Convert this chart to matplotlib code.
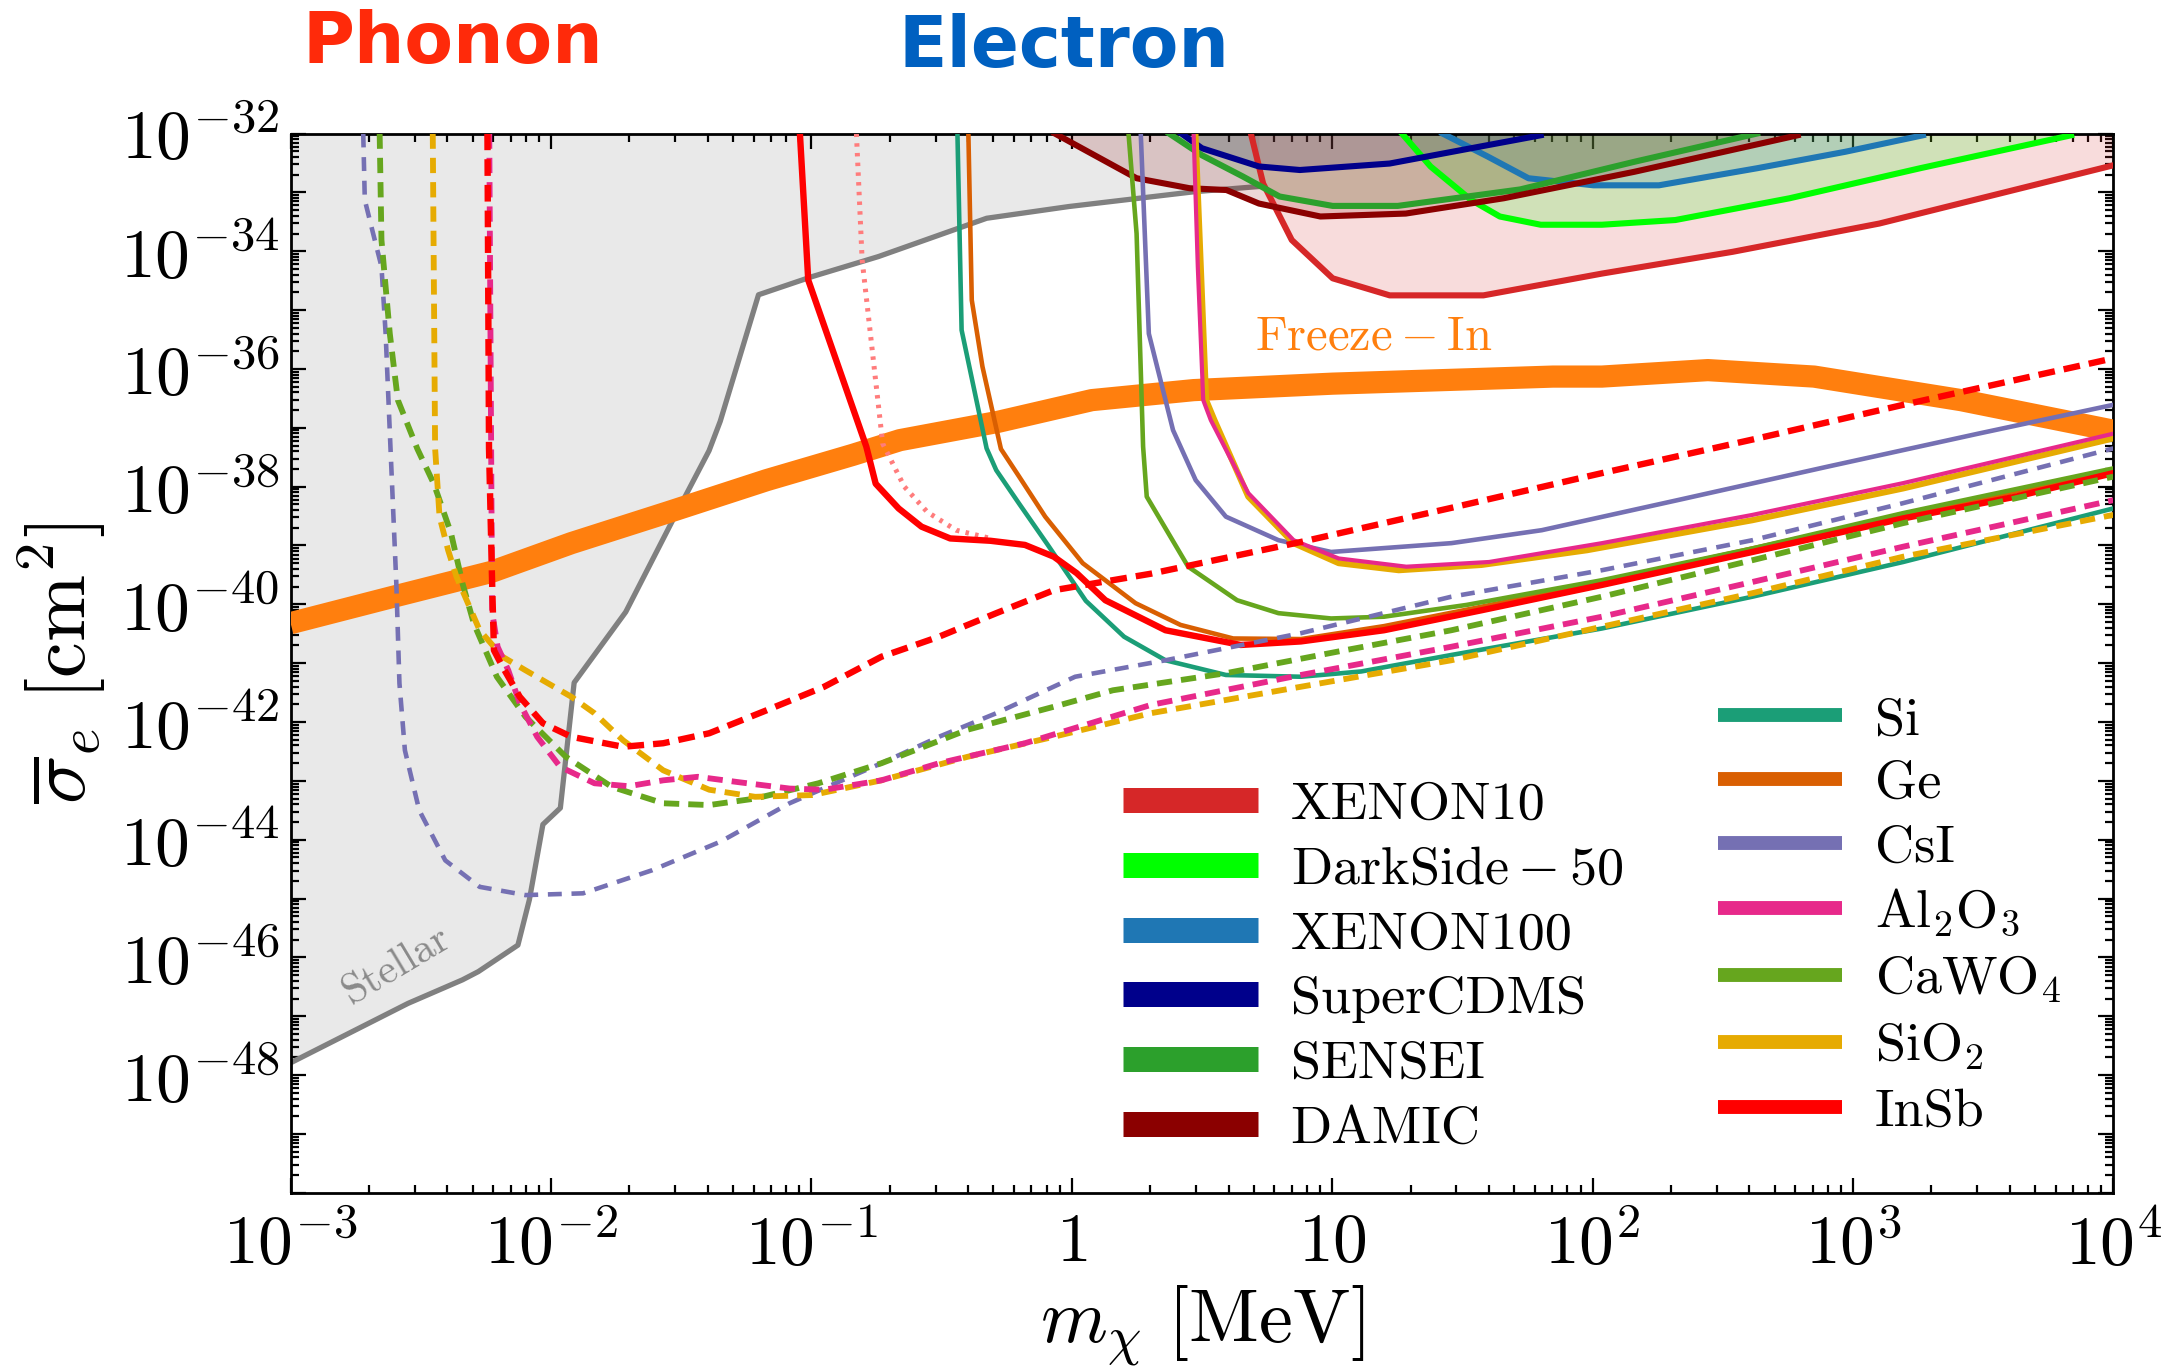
import numpy as np
import matplotlib
matplotlib.use('Agg')
import matplotlib.pyplot as plt
from matplotlib.lines import Line2D
from matplotlib.ticker import FixedLocator, LogLocator, FuncFormatter, NullFormatter

plt.rcParams.update({
    'font.family': 'serif',
    'font.serif': ['cmr10'],
    'mathtext.fontset': 'cm',
    'axes.unicode_minus': False,
    'axes.formatter.use_mathtext': True,
    'lines.scale_dashes': False,
})

# ---------------- data (log10 mass [MeV], log10 sigma [cm^2]) ----------------
stellar_lm = [-3.0, -2.549, -2.340, -2.279, -2.127, -2.083, -2.031, -1.964, -1.911, -1.713,
              -1.537, -1.393, -1.350, -1.203, -0.996, -0.742, -0.327, -0.010, 0.469, 0.719]
stellar_ls = [-47.79, -46.78, -46.38, -46.24, -45.79, -45.02, -43.74, -43.46, -41.33, -40.13,
              -38.61, -37.39, -36.89, -34.74, -34.43, -34.09, -33.44, -33.24, -32.99, -32.90]

freeze_lm = [-3.0, -2.605, -2.230, -1.922, -1.547, -1.172, -0.841, -0.660, -0.284, 0.077,
             0.468, 1.002, 1.848, 2.036, 2.443, 2.851, 3.415, 4.0]
freeze_ls = [-40.32, -39.87, -39.45, -38.96, -38.43, -37.89, -37.46, -37.21, -36.90, -36.53,
             -36.36, -36.25, -36.13, -36.13, -36.02, -36.13, -36.53, -37.05]

# experimental limits
xenon10_lm = [0.688, 0.735, 0.845, 1.002, 1.221, 1.581, 2.036, 2.538, 3.101, 4.0]
xenon10_ls = [-32.0, -32.85, -33.81, -34.46, -34.75, -34.75, -34.38, -34.01, -33.53, -32.54]
darkside_lm = [1.268, 1.378, 1.534, 1.644, 1.801, 2.036, 2.318, 2.757, 3.258, 3.838]
darkside_ls = [-32.0, -32.56, -33.13, -33.41, -33.55, -33.55, -33.47, -33.10, -32.59, -32.03]
xenon100_lm = [1.424, 1.597, 1.754, 2.004, 2.255, 2.632, 2.971, 3.269]
xenon100_ls = [-32.0, -32.39, -32.76, -32.88, -32.88, -32.59, -32.31, -32.03]
supercdms_lm = [0.421, 0.500, 0.719, 0.876, 1.221, 1.534, 1.801]
supercdms_ls = [-32.0, -32.25, -32.56, -32.62, -32.51, -32.25, -32.03]
sensei_lm = [0.374, 0.500, 0.657, 0.798, 1.002, 1.252, 1.722, 2.161, 2.632]
sensei_ls = [-32.0, -32.37, -32.73, -33.07, -33.23, -33.23, -32.95, -32.48, -32.0]
damic_lm = [-0.065, 0.249, 0.453, 0.594, 0.719, 0.955, 1.283, 1.659, 2.161, 2.788]
damic_ls = [-32.0, -32.76, -32.93, -32.96, -33.19, -33.41, -33.36, -33.10, -32.65, -32.03]

# electron scattering (solid)
si_lm = [-0.439, -0.423, -0.327, -0.290, -0.202, -0.092, 0.054, 0.201, 0.360, 0.592, 0.880,
         1.112, 1.458, 2.036, 2.614, 3.193, 4.0]
si_ls = [-32.0, -35.34, -37.35, -37.72, -38.29, -38.99, -39.94, -40.55, -40.95, -41.20, -41.23,
         -41.14, -40.86, -40.41, -39.87, -39.28, -38.37]
ge_lm = [-0.397, -0.384, -0.343, -0.272, -0.202, -0.102, 0.042, 0.245, 0.418, 0.620, 0.880,
         1.199, 1.574, 2.036, 2.614, 3.193, 4.0]
ge_ls = [-32.0, -34.83, -35.96, -37.36, -37.83, -38.51, -39.30, -39.98, -40.35, -40.58, -40.59,
         -40.37, -40.04, -39.62, -39.05, -38.49, -37.73]
csi_lm = [0.265, 0.296, 0.389, 0.476, 0.592, 0.794, 0.996, 1.458, 1.805, 2.326, 2.903, 3.481, 4.0]
csi_ls = [-32.0, -35.40, -37.04, -37.89, -38.51, -38.91, -39.11, -38.96, -38.74, -38.23, -37.66,
          -37.10, -36.61]
al2o3_lm = [0.468, 0.484, 0.505, 0.534, 0.678, 0.852, 1.025, 1.285, 1.603, 2.036, 2.614, 3.193, 4.0]
al2o3_ls = [-32.0, -34.26, -36.53, -36.87, -38.11, -38.91, -39.22, -39.36, -39.28, -38.96, -38.48,
            -37.94, -37.10]
cawo4_lm = [0.218, 0.249, 0.274, 0.288, 0.447, 0.635, 0.794, 0.996, 1.199, 1.516, 2.036, 2.614,
            3.193, 4.0]
cawo4_ls = [-32.0, -33.70, -37.32, -38.17, -39.36, -39.93, -40.15, -40.24, -40.21, -40.01, -39.59,
            -39.05, -38.45, -37.69]
sio2_lm = [0.475, 0.516, 0.548, 0.678, 0.852, 1.025, 1.256, 1.574, 1.979, 2.614, 3.193, 4.0]
sio2_ls = [-32.0, -36.53, -36.87, -38.17, -38.96, -39.30, -39.42, -39.33, -39.08, -38.57, -38.03,
           -37.18]
insb_lm = [-1.044, -1.012, -0.789, -0.753, -0.665, -0.577, -0.467, -0.312, -0.180, -0.069, 0.019,
           0.129, 0.360, 0.649, 0.880, 1.199, 1.574, 2.036, 2.614, 3.193, 3.626, 4.0]
insb_ls = [-32.0, -34.49, -37.32, -37.95, -38.37, -38.68, -38.88, -38.92, -38.99, -39.19, -39.47,
           -39.93, -40.44, -40.69, -40.63, -40.44, -40.10, -39.67, -39.11, -38.54, -38.17, -37.77]
insb_alt_lm = [-0.827, -0.805, -0.726, -0.643, -0.555, -0.444, -0.312]
insb_alt_ls = [-32.0, -34.15, -37.27, -38.00, -38.43, -38.74, -38.88]

# phonon (dashed)
csi_ph_lm = [-2.721, -2.715, -2.683, -2.651, -2.635, -2.616, -2.594, -2.582, -2.561, -2.506, -2.406,
             -2.274, -2.098, -1.877, -1.613, -1.348, -1.084, -0.731, -0.510, -0.290, 0.013, 0.360,
             0.880, 1.458, 2.036, 2.614, 3.193, 4.0]
csi_ph_ls = [-32.0, -33.13, -33.70, -34.26, -35.40, -37.38, -39.64, -41.34, -42.48, -43.50, -44.35,
             -44.80, -44.94, -44.91, -44.52, -44.03, -43.38, -42.70, -42.25, -41.85, -41.23, -40.95,
             -40.49, -39.87, -39.42, -38.91, -38.28, -37.35]
cawo4_ph_lm = [-2.658, -2.651, -2.619, -2.588, -2.513, -2.450, -2.384, -2.340, -2.296, -2.208,
               -2.098, -1.943, -1.767, -1.569, -1.392, -1.216, -0.973, -0.731, -0.400, -0.069,
               0.158, 0.592, 1.025, 1.458, 2.036, 2.614, 3.193, 4.0]
cawo4_ph_ls = [-32.0, -33.81, -35.40, -36.53, -37.36, -37.95, -38.79, -39.64, -40.33, -41.23,
               -41.91, -42.59, -43.10, -43.38, -43.41, -43.30, -43.04, -42.70, -42.13, -41.74,
               -41.46, -41.17, -40.80, -40.44, -39.87, -39.25, -38.62, -37.83]
sio2_ph_lm = [-2.454, -2.445, -2.428, -2.395, -2.363, -2.318, -2.274, -2.186, -2.098, -1.922,
              -1.833, -1.723, -1.569, -1.392, -1.216, -0.996, -0.731, -0.400, -0.069, 0.303,
              0.880, 1.458, 2.036, 2.614, 3.193, 4.0]
sio2_ph_ls = [-32.0, -37.35, -38.51, -39.08, -39.53, -39.99, -40.44, -40.89, -41.12, -41.57,
              -41.85, -42.31, -42.82, -43.15, -43.27, -43.24, -42.99, -42.59, -42.25, -41.85,
              -41.40, -40.95, -40.38, -39.81, -39.19, -38.48]
al2o3_ph_lm = [-2.237, -2.226, -2.205, -2.164, -2.120, -2.053, -1.965, -1.833, -1.701, -1.569,
               -1.436, -1.282, -1.083, -0.951, -0.731, -0.510, -0.180, 0.303, 0.880, 1.458, 2.036,
               2.614, 3.193, 4.0]
al2o3_ph_ls = [-32.0, -40.13, -40.72, -41.12, -41.68, -42.25, -42.76, -43.04, -43.09, -42.99,
               -42.93, -43.02, -43.13, -43.15, -42.99, -42.70, -42.36, -41.71, -41.20, -40.72,
               -40.21, -39.62, -39.02, -38.23]
insb_ph_lm = [-2.244, -2.238, -2.226, -2.219, -2.186, -2.120, -2.031, -1.922, -1.723, -1.569,
              -1.392, -1.172, -0.951, -0.731, -0.510, -0.290, -0.069, 0.303, 0.880, 1.458, 2.036,
              2.614, 3.193, 4.0]
insb_ph_ls = [-32.0, -37.35, -39.64, -40.78, -41.06, -41.57, -42.02, -42.25, -42.42, -42.36,
              -42.19, -41.80, -41.40, -40.89, -40.55, -40.15, -39.76, -39.48, -38.94, -38.36,
              -37.77, -37.20, -36.61, -35.82]

exp_labels = ['XENON10', r'$\mathrm{DarkSide-50}$', 'XENON100', 'SuperCDMS', 'SENSEI', 'DAMIC']
mat_labels = ['Si', 'Ge', 'CsI', r'$\mathrm{Al_2O_3}$', r'$\mathrm{CaWO_4}$', r'$\mathrm{SiO_2}$', 'InSb']
x_ticks_exp = [-3, -2, -1, 0, 1, 2, 3, 4]

# ---------------- styling ----------------
C_X10, C_DS, C_X100, C_CDMS, C_SEN, C_DAM = '#D62728', '#00FF00', '#1F77B4', '#00008B', '#2CA02C', '#8B0000'
C_SI, C_GE, C_CSI, C_AL, C_CA, C_SIO2, C_INSB = '#1B9E77', '#D95F02', '#7570B3', '#E7298A', '#66A61E', '#E6AB02', '#FF0000'


def P(lm, ls):
    return 10.0 ** np.asarray(lm), 10.0 ** np.asarray(ls)


fig = plt.figure(figsize=(21.8, 13.68), dpi=100)
ax = fig.add_axes([0.1333, 0.128, 0.9694 - 0.1333, 0.9024 - 0.128])
ax.set_xscale('log')
ax.set_yscale('log')
ax.set_xlim(1e-3, 1e4)
ax.set_ylim(1e-50, 1e-32)

# stellar region
sx, sy = P(stellar_lm, stellar_ls)
ax.fill_between(sx, sy, 1e-32, color='#E9E9E9', lw=0, zorder=1)
ax.plot(sx, sy, color='#808080', lw=3.8, zorder=2)
ax.text(10 ** -2.594, 10 ** -46.13, 'Stellar', color='#8A8A8A', fontsize=30,
        rotation=31, ha='center', va='center', zorder=3)

# experimental regions
for lm, ls, c in [(xenon10_lm, xenon10_ls, C_X10), (darkside_lm, darkside_ls, C_DS),
                  (xenon100_lm, xenon100_ls, C_X100), (supercdms_lm, supercdms_ls, C_CDMS),
                  (sensei_lm, sensei_ls, C_SEN), (damic_lm, damic_ls, C_DAM)]:
    x, y = P(lm, ls)
    ax.fill_between(x, y, 1e-32, color=c, alpha=0.16, lw=0, zorder=2)
    ax.plot(x, y, color=c, lw=4.4, zorder=6)

# freeze-in
fx, fy = P(freeze_lm, freeze_ls)
ax.plot(fx, fy, color='#FF7F0E', lw=16, zorder=3, solid_capstyle='butt')
ax.text(10 ** 1.159, 10 ** -35.47, r'$\mathrm{Freeze-In}$', color='#FF7F0E', fontsize=35,
        ha='center', va='center', zorder=4)

# electron (solid)
for lm, ls, c, w in [(si_lm, si_ls, C_SI, 3.3), (ge_lm, ge_ls, C_GE, 3.3), (csi_lm, csi_ls, C_CSI, 3.3),
                     (cawo4_lm, cawo4_ls, C_CA, 3.3), (sio2_lm, sio2_ls, C_SIO2, 4.4),
                     (al2o3_lm, al2o3_ls, C_AL, 3.0), (insb_lm, insb_ls, C_INSB, 4.6)]:
    x, y = P(lm, ls)
    ax.plot(x, y, color=c, lw=w, zorder=7)
x, y = P(insb_alt_lm, insb_alt_ls)
ax.plot(x, y, color='#FF7C7C', lw=3.6, ls=(0, (2.5, 4.5)), zorder=6)

# phonon (dashed)
for lm, ls, c, w, d in [(csi_ph_lm, csi_ph_ls, C_CSI, 3.3, (10, 7)),
                        (cawo4_ph_lm, cawo4_ph_ls, C_CA, 4.2, (11, 6.5)),
                        (sio2_ph_lm, sio2_ph_ls, C_SIO2, 4.2, (11, 6.5)),
                        (al2o3_ph_lm, al2o3_ph_ls, C_AL, 4.2, (11, 6.5)),
                        (insb_ph_lm, insb_ph_ls, C_INSB, 4.6, (12, 6.5))]:
    x, y = P(lm, ls)
    ax.plot(x, y, color=c, lw=w, ls=(0, d), zorder=7)

# ---------------- axes formatting ----------------
def fmt_x(v, pos):
    e = int(round(np.log10(v)))
    if e == 0:
        return r'$1$'
    if e == 1:
        return r'$10$'
    return r'$10^{%d}$' % e


def fmt_y(v, pos):
    e = int(round(np.log10(v)))
    return r'$10^{%d}$' % e if (e % 2 == 0 and e > -50) else ''


ax.xaxis.set_major_locator(FixedLocator([10.0 ** e for e in x_ticks_exp]))
ax.xaxis.set_major_formatter(FuncFormatter(fmt_x))
ax.xaxis.set_minor_locator(LogLocator(base=10, subs=np.arange(2, 10), numticks=100))
ax.xaxis.set_minor_formatter(NullFormatter())
ax.yaxis.set_major_locator(FixedLocator([10.0 ** e for e in range(-50, -31)]))
ax.yaxis.set_major_formatter(FuncFormatter(fmt_y))
ax.yaxis.set_minor_locator(LogLocator(base=10, subs=np.arange(2, 10), numticks=200))
ax.yaxis.set_minor_formatter(NullFormatter())
ax.tick_params(which='both', direction='in', top=True, right=True, width=1.6, colors='black')
ax.tick_params(which='major', length=11, labelsize=50)
ax.tick_params(which='minor', length=5.5)
ax.tick_params(axis='x', which='major', pad=14)
ax.tick_params(axis='y', which='major', pad=8)
for s in ax.spines.values():
    s.set_linewidth(2.0)

ax.set_xlabel(r'$m_\chi\ [\mathrm{MeV}]$', fontsize=55)
ax.set_ylabel(r'$\overline{\sigma}_e\ [\mathrm{cm}^2]$', fontsize=58)
ax.xaxis.set_label_coords(0.5, -0.085)
ax.yaxis.set_label_coords(-0.10, 0.5)

# legends
h_exp = [Line2D([], [], color=c, lw=18, solid_capstyle='butt')
         for c in [C_X10, C_DS, C_X100, C_CDMS, C_SEN, C_DAM]]
h_mat = [Line2D([], [], color=c, lw=10, solid_capstyle='butt')
         for c in [C_SI, C_GE, C_CSI, C_AL, C_CA, C_SIO2, C_INSB]]
leg1 = fig.legend(h_exp, exp_labels, loc='upper left', bbox_to_anchor=(0.515, 0.429),
                  frameon=False, fontsize=39, handlelength=2.5, handletextpad=0.6,
                  labelspacing=0.31, borderpad=0, borderaxespad=0)
leg2 = fig.legend(h_mat, mat_labels, loc='upper left', bbox_to_anchor=(0.788, 0.491),
                  frameon=False, fontsize=39, handlelength=2.3, handletextpad=0.6,
                  labelspacing=0.29, borderpad=0, borderaxespad=0)

# top titles
fig.text(0.2076, 0.968, 'Phonon', color='#FF2A0A', fontsize=51, fontweight='bold',
         family='DejaVu Sans', ha='center', va='center')
fig.text(0.488, 0.965, 'Electron', color='#0060C0', fontsize=51, fontweight='bold',
         family='DejaVu Sans', ha='center', va='center')

fig.savefig('out.png', dpi=100)
